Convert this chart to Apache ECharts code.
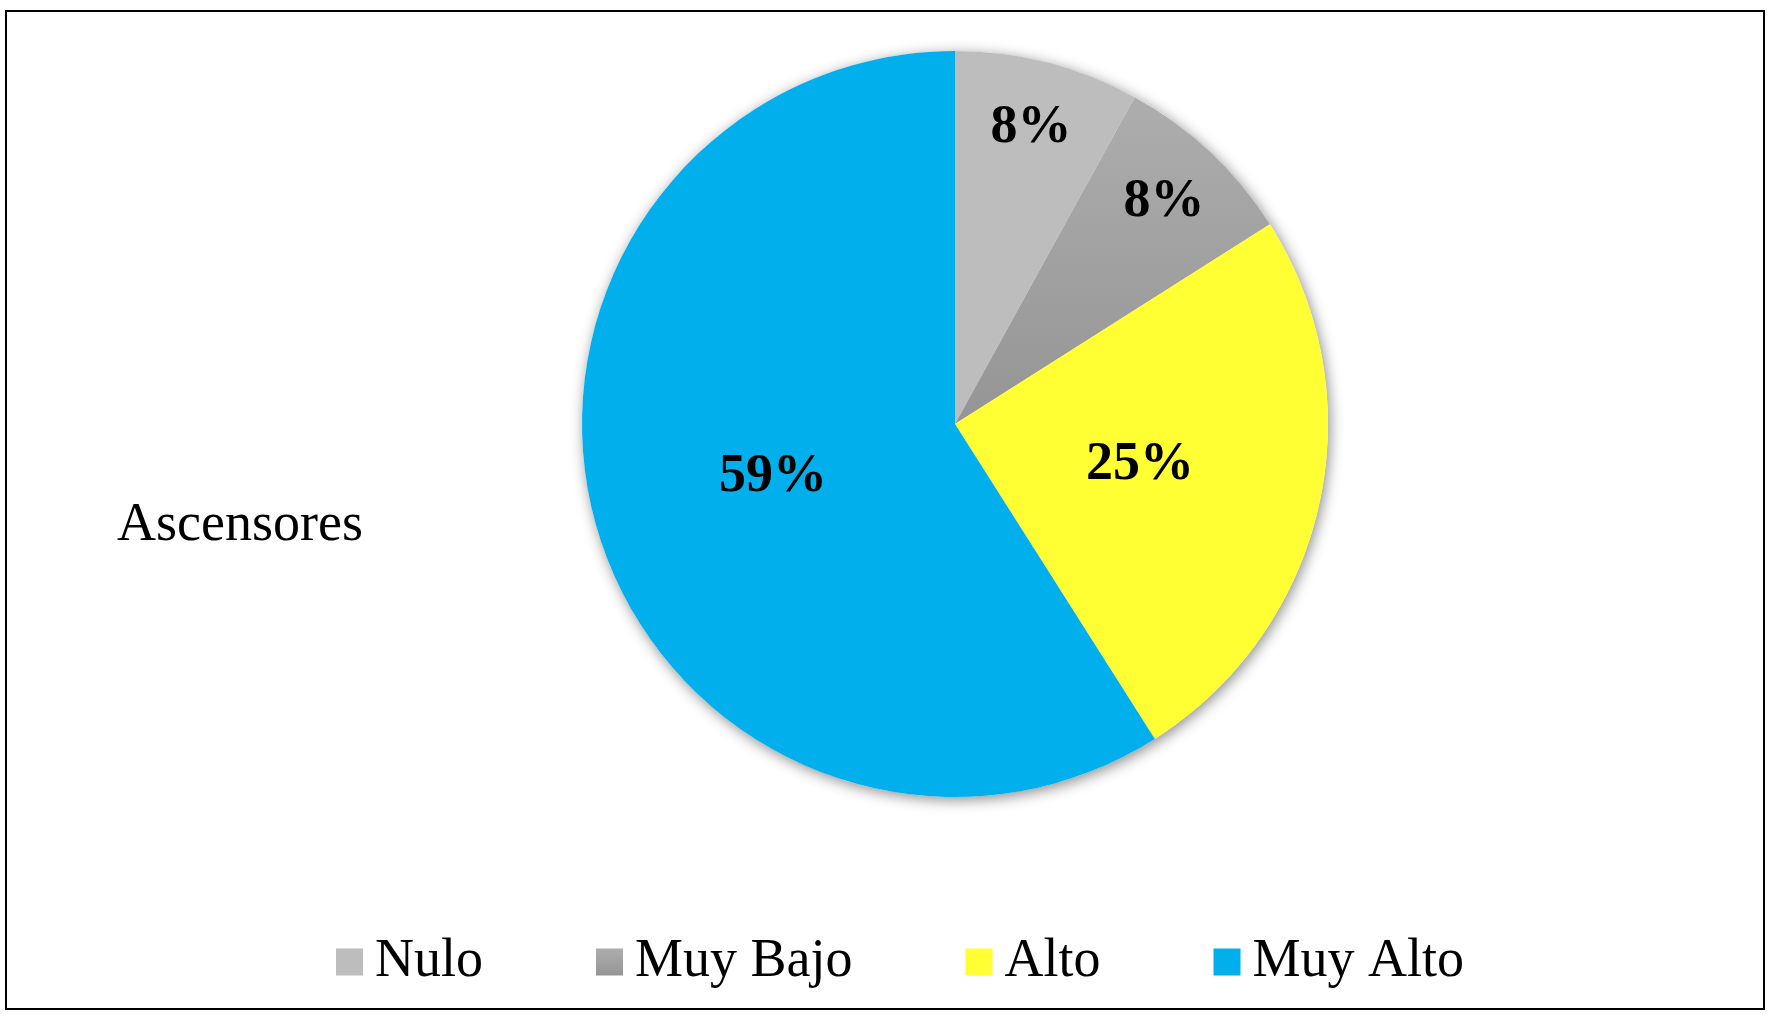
<!DOCTYPE html>
<html>
<head>
<meta charset="utf-8">
<script src="https://cdn.jsdelivr.net/npm/echarts@6/dist/echarts.min.js"></script>
<style>
    html, body { margin: 0; padding: 0; background: #fff; }
    #main { width: 1776px; height: 1024px; }
</style>
</head>
<body>
<div id="main"></div>
<script>
    // datos del gráfico
    var categorias = ['Nulo', 'Muy Bajo', 'Alto', 'Muy Alto'];
    var porcentajes = [8, 8, 25, 59];
    var titulo = 'Ascensores';

    var colores = [
        '#bdbdbd',
        new echarts.graphic.LinearGradient(0, 0, 0, 1, [
            {offset: 0, color: '#adadad'},
            {offset: 1, color: '#959595'}
        ]),
        '#ffff33',
        '#00afec'
    ];

    var fuente = '"Liberation Serif", "Times New Roman", serif';
    var centro = [955, 424];
    var radio = 373;

    // rebanadas pequeñas llevan la etiqueta hacia el borde
    function esPequena(v) { return v < 15; }

    var datosPie = categorias.map(function (c, i) {
        return {
            name: c,
            value: porcentajes[i],
            itemStyle: {color: colores[i]},
            label: {show: !esPequena(porcentajes[i])}
        };
    });
    var datosAnillo = categorias.map(function (c, i) {
        return {
            name: c,
            value: porcentajes[i],
            itemStyle: {color: 'rgba(0,0,0,0)'},
            label: {show: esPequena(porcentajes[i])}
        };
    });

    var etiqueta = {
        position: 'inside',
        formatter: '{c}%',
        fontFamily: fuente,
        fontSize: 54,
        fontWeight: 'bold',
        color: '#000'
    };

    var option = {
        backgroundColor: '#fff',
        animation: false,
        title: {
            text: titulo,
            left: 112,
            top: 491,
            textStyle: {
                fontFamily: fuente,
                fontSize: 54,
                fontWeight: 'normal',
                color: '#000',
                lineHeight: 60
            }
        },
        legend: {
            data: categorias,
            left: 331,
            top: 927,
            itemWidth: 27,
            itemHeight: 27,
            itemGap: 113,
            icon: 'rect',
            textStyle: {
                fontFamily: fuente,
                fontSize: 54,
                color: '#000',
                lineHeight: 60,
                padding: [0, 0, 0, 7]
            }
        },
        graphic: [{
            type: 'rect',
            shape: {x: 6, y: 11, width: 1758, height: 998},
            style: {fill: 'none', stroke: '#000', lineWidth: 2},
            silent: true,
            z: 100
        }],
        series: [
            {
                // sombra del círculo
                type: 'pie',
                center: centro,
                radius: radio,
                silent: true,
                z: 1,
                label: {show: false},
                labelLine: {show: false},
                itemStyle: {
                    color: '#fff',
                    shadowBlur: 14,
                    shadowOffsetX: 2,
                    shadowOffsetY: 3,
                    shadowColor: 'rgba(0,0,0,0.45)'
                },
                data: [{name: 'sombra', value: 1}]
            },
            {
                name: titulo,
                type: 'pie',
                center: centro,
                radius: radio,
                startAngle: 90,
                clockwise: true,
                z: 2,
                label: etiqueta,
                labelLine: {show: false},
                itemStyle: {borderWidth: 0},
                emphasis: {disabled: true},
                data: datosPie
            },
            {
                type: 'pie',
                center: centro,
                radius: [radio * 0.62, radio],
                startAngle: 90,
                clockwise: true,
                silent: true,
                z: 3,
                label: etiqueta,
                labelLine: {show: false},
                itemStyle: {borderWidth: 0},
                data: datosAnillo
            }
        ]
    };

    var chart = echarts.init(document.getElementById('main'));
    chart.setOption(option);
</script>
</body>
</html>
